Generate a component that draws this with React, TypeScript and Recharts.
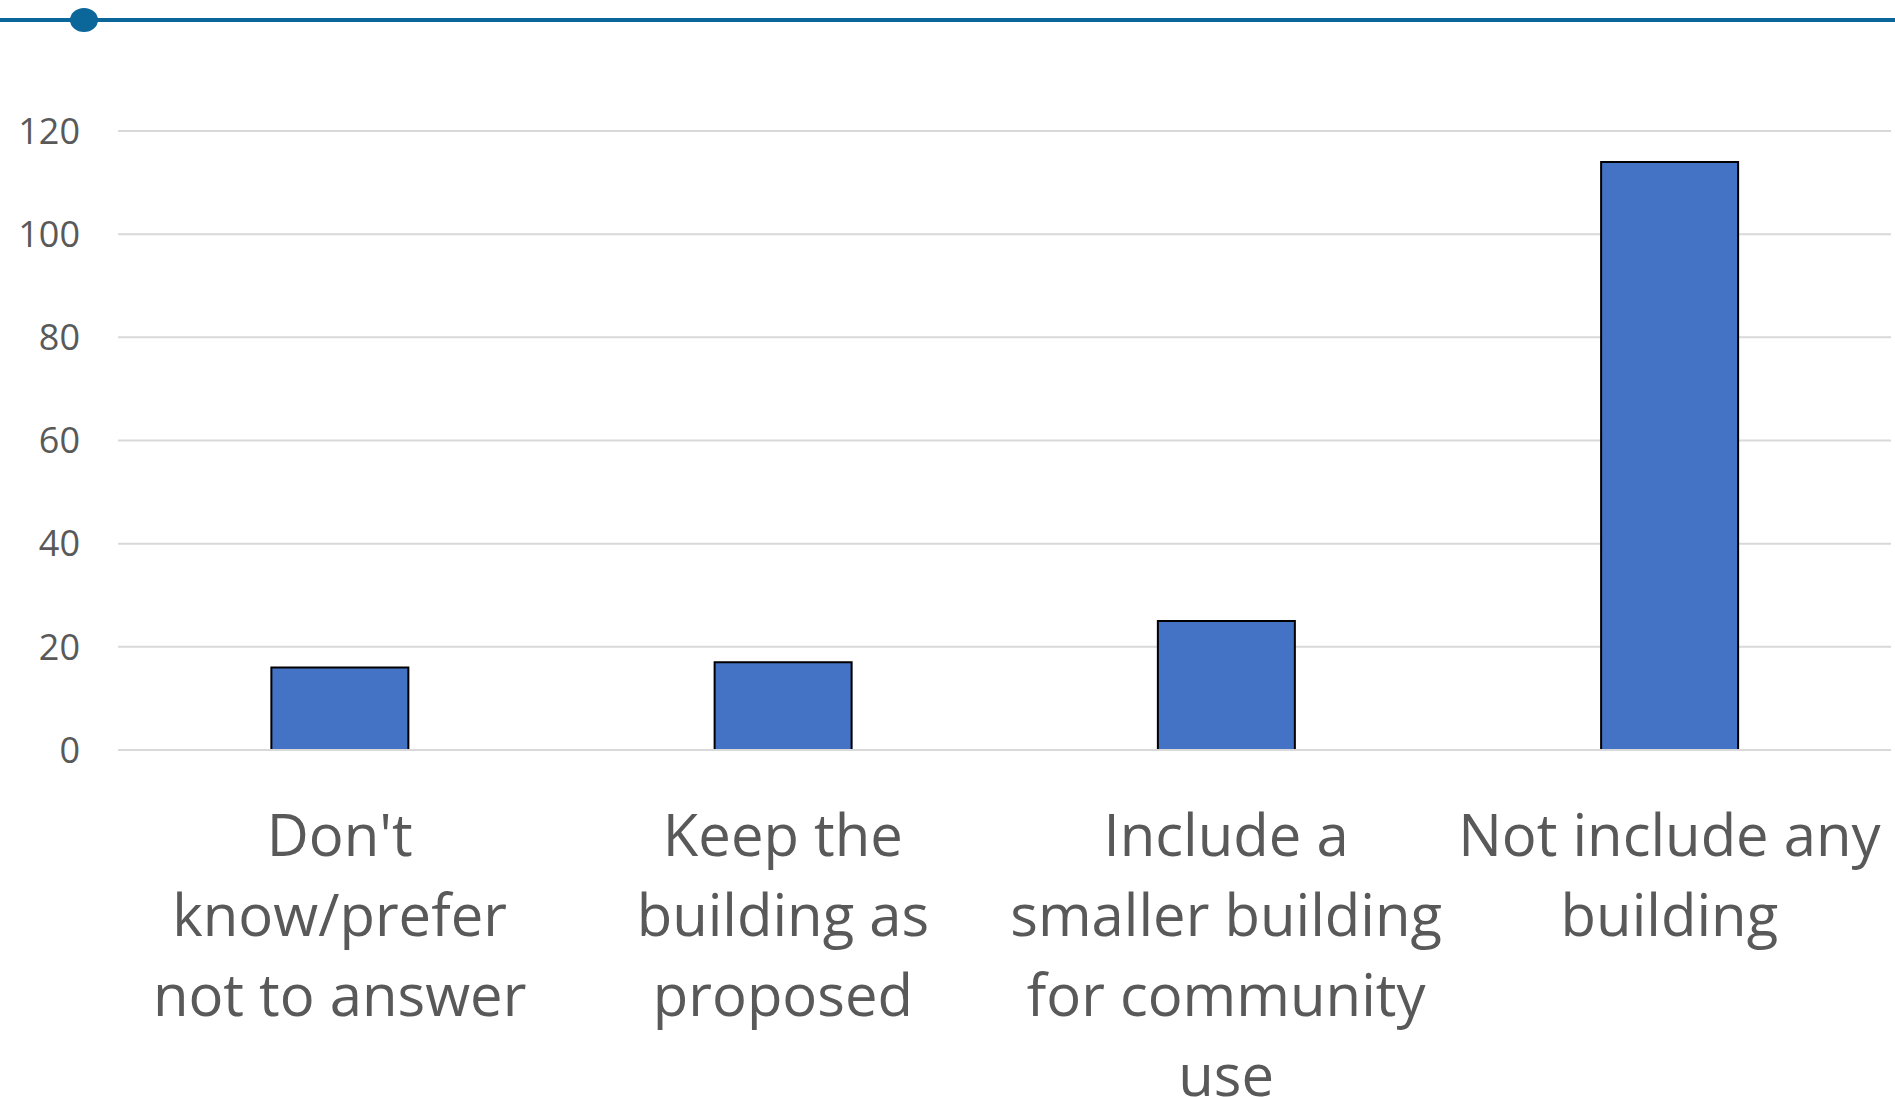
import React from 'react'
import { BarChart, Bar, XAxis, YAxis, CartesianGrid } from 'recharts'

const categories = [
  "Don't know/prefer not to answer",
  'Keep the building as proposed',
  'Include a smaller building for community use',
  'Not include any building',
]
const responses = [16, 17, 25, 114]
const yTicks = [0, 20, 40, 60, 80, 100, 120]
// how each category label wraps under its bar
const tickLabelLines: Record<string, string[]> = {
  "Don't know/prefer not to answer": ["Don't", 'know/prefer', 'not to answer'],
  'Keep the building as proposed': ['Keep the', 'building as', 'proposed'],
  'Include a smaller building for community use': ['Include a', 'smaller building', 'for community', 'use'],
  'Not include any building': ['Not include any', 'building'],
}

const data = categories.map((name, i) => ({ name, value: responses[i] }))

const FONT = '"Open Sans", "Noto Sans", sans-serif'
const TEXT = '#595959'
const GRID = '#d9d9d9'

const CategoryTick = (props: any) => {
  const { x, y, payload } = props
  const lines = tickLabelLines[payload.value] || [payload.value]
  return (
    <text x={x} y={y} textAnchor="middle" fill={TEXT} style={{ fontFamily: FONT, fontSize: 58 }}>
      {lines.map((line, i) => (
        <tspan key={i} x={x} y={y + 98 + i * 80}>
          {line}
        </tspan>
      ))}
    </text>
  )
}

export default function App() {
  return (
    <div style={{ position: 'absolute', left: 0, top: 0, width: 1895, height: 1097, background: '#fff' }}>
      {/* header rule with dot */}
      <svg width={1895} height={40} style={{ position: 'absolute', left: 0, top: 0 }}>
        <line x1={0} y1={20} x2={1895} y2={20} stroke="#0b6699" strokeWidth={4} />
        <ellipse cx={84} cy={20} rx={14} ry={12} fill="#0b6699" />
      </svg>
      <BarChart
        width={1895}
        height={1097}
        data={data}
        margin={{ top: 131, right: 4, bottom: 0, left: 0 }}
        barCategoryGap="34.6%"
      >
        <CartesianGrid horizontal vertical={false} stroke={GRID} strokeWidth={2} />
        <XAxis
          dataKey="name"
          height={347}
          interval={0}
          tickLine={false}
          axisLine={{ stroke: GRID, strokeWidth: 2 }}
          tick={<CategoryTick />}
        />
        <YAxis
          width={118}
          domain={[0, 120]}
          ticks={yTicks}
          interval={0}
          axisLine={false}
          tickLine={false}
          tickMargin={32}
          tick={{ fill: TEXT, fontSize: 36, fontFamily: FONT }}
        />
        <Bar dataKey="value" fill="#4472c4" stroke="#000" strokeWidth={2} isAnimationActive={false} />
      </BarChart>
    </div>
  )
}
